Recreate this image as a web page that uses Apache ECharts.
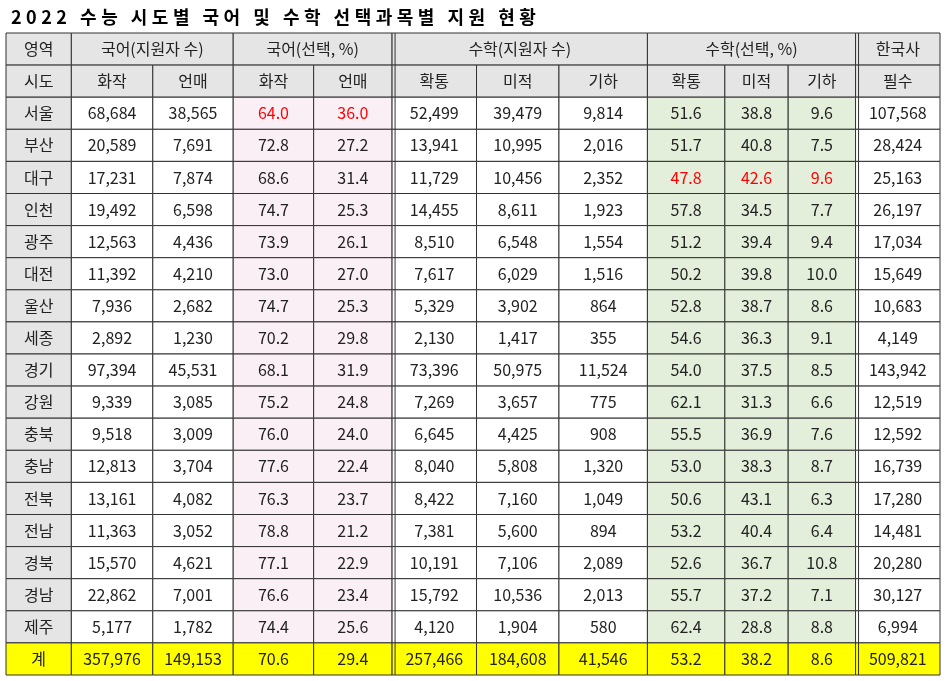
<!DOCTYPE html>
<html><head><meta charset="utf-8">
<script src="https://cdn.jsdelivr.net/npm/echarts@6/dist/echarts.min.js"></script>
<style>html,body{margin:0;padding:0;background:#fff}#c{width:948px;height:681px}</style>
</head><body><div id="c"></div>
<script>
const title = '2022 수능 시도별 국어 및 수학 선택과목별 지원 현황';
const groupHeaders = [['영역',0,1],['국어(지원자 수)',1,2],['국어(선택, %)',3,2],['수학(지원자 수)',5,3],['수학(선택, %)',8,3],['한국사',11,1]];
const subHeaders = ['시도','화작','언매','화작','언매','확통','미적','기하','확통','미적','기하','필수'];
const regions = ['서울','부산','대구','인천','광주','대전','울산','세종','경기','강원','충북','충남','전북','전남','경북','경남','제주','계'];
const korHwajak = ['68,684','20,589','17,231','19,492','12,563','11,392','7,936','2,892','97,394','9,339','9,518','12,813','13,161','11,363','15,570','22,862','5,177','357,976'];
const korEonmae = ['38,565','7,691','7,874','6,598','4,436','4,210','2,682','1,230','45,531','3,085','3,009','3,704','4,082','3,052','4,621','7,001','1,782','149,153'];
const korHwajakPct = ['64.0','72.8','68.6','74.7','73.9','73.0','74.7','70.2','68.1','75.2','76.0','77.6','76.3','78.8','77.1','76.6','74.4','70.6'];
const korEonmaePct = ['36.0','27.2','31.4','25.3','26.1','27.0','25.3','29.8','31.9','24.8','24.0','22.4','23.7','21.2','22.9','23.4','25.6','29.4'];
const mathHwak = ['52,499','13,941','11,729','14,455','8,510','7,617','5,329','2,130','73,396','7,269','6,645','8,040','8,422','7,381','10,191','15,792','4,120','257,466'];
const mathMi = ['39,479','10,995','10,456','8,611','6,548','6,029','3,902','1,417','50,975','3,657','4,425','5,808','7,160','5,600','7,106','10,536','1,904','184,608'];
const mathGi = ['9,814','2,016','2,352','1,923','1,554','1,516','864','355','11,524','775','908','1,320','1,049','894','2,089','2,013','580','41,546'];
const mathHwakPct = ['51.6','51.7','47.8','57.8','51.2','50.2','52.8','54.6','54.0','62.1','55.5','53.0','50.6','53.2','52.6','55.7','62.4','53.2'];
const mathMiPct = ['38.8','40.8','42.6','34.5','39.4','39.8','38.7','36.3','37.5','31.3','36.9','38.3','43.1','40.4','36.7','37.2','28.8','38.2'];
const mathGiPct = ['9.6','7.5','9.6','7.7','9.4','10.0','8.6','9.1','8.5','6.6','7.6','8.7','6.3','6.4','10.8','7.1','8.8','8.6'];
const hanguksa = ['107,568','28,424','25,163','26,197','17,034','15,649','10,683','4,149','143,942','12,519','12,592','16,739','17,280','14,481','20,280','30,127','6,994','509,821'];
const redCells = [[3,2],[4,2],[8,4],[9,4],[10,4]]; // [col,row]

const colW = [65,81,80,80,78,84,82,88,77,63,67,84];
const cols = [regions,korHwajak,korEonmae,korHwajakPct,korEonmaePct,mathHwak,mathMi,mathGi,mathHwakPct,mathMiPct,mathGiPct,hanguksa];
const nRows = 2 + regions.length;
const totalW = colW.reduce((a,b)=>a+b,0);
const edges=[0]; colW.forEach(w=>edges.push(edges[edges.length-1]+w));

const data=[];
groupHeaders.forEach(g=>data.push({value:[g[1],0,g[2]],label:g[0]}));
subHeaders.forEach((s,i)=>data.push({value:[i,1,1],label:s}));
cols.forEach((arr,c)=>arr.forEach((v,r)=>data.push({value:[c,r+2,1],label:v})));

function fillFor(c,row){
  if(row<2 || c===0 && row<nRows-1) return '#e5e5e5';
  if(row===nRows-1) return '#ffff00';
  if(c===3||c===4) return '#fbeff6';
  if(c>=8&&c<=10) return '#e3efda';
  return '#ffffff';
}
const chart=echarts.init(document.getElementById('c'));
chart.setOption({
  animation:false,
  title:{text:title.split('').join('\u2005'),left:6,top:3,textStyle:{fontFamily:'Noto Sans CJK KR',fontSize:18,fontWeight:'bold',color:'#000'}},
  grid:{left:6,right:8,top:33,bottom:6},
  xAxis:{type:'value',min:0,max:colW.length,show:false},
  yAxis:{type:'category',data:Array.from({length:nRows},(_,i)=>i),inverse:true,show:false},
  series:[{type:'custom',data:data,
    renderItem:function(params,api){
      const cs=params.coordSys;
      const c=api.value(0),row=api.value(1),span=api.value(2);
      const sx=cs.width/totalW;
      const x0=cs.x+edges[c]*sx, x1=cs.x+edges[c+span]*sx;
      const yc=api.coord([0,row])[1], h=api.size([0,1])[1];
      const y0=yc-h/2;
      const d=data[params.dataIndex];
      const red=redCells.some(p=>p[0]===c&&p[1]===row);
      const children=[{type:'rect',shape:{x:x0,y:y0,width:x1-x0,height:h},style:{fill:fillFor(c,row),stroke:'#333',lineWidth:1}},
        {type:'text',style:{x:(x0+x1)/2,y:yc,text:d.label,align:'center',verticalAlign:'middle',fontFamily:'Noto Sans CJK KR',fontSize:16,fill:red?'#ff0000':'#222'}}];
      [5,11].forEach(k=>{ if(c===k){children.push({type:'line',shape:{x1:x0+3,y1:y0,x2:x0+3,y2:y0+h},style:{stroke:'#333',lineWidth:1}});} });
      return {type:'group',children:children};
    }}]
});
</script></body></html>
